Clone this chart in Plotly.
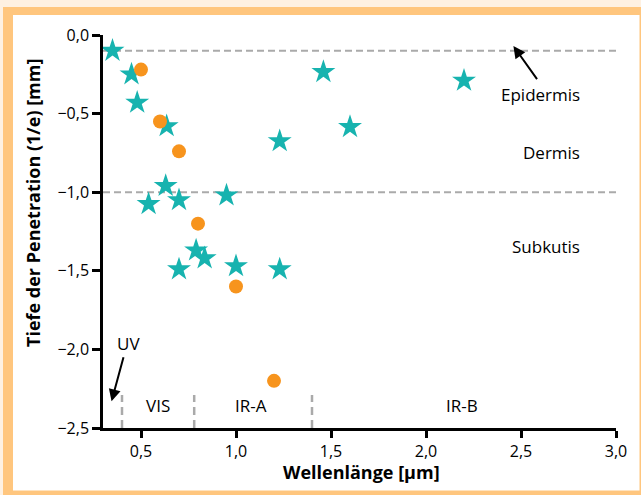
import plotly.graph_objects as go

# ---------------- data ----------------
star_x = [0.35, 0.45, 0.48, 0.635, 0.63, 0.54, 0.70, 0.95, 0.79, 0.835, 0.70, 1.0, 1.23, 1.23, 1.46, 1.60, 2.20]
star_y = [-0.10, -0.25, -0.43, -0.58, -0.96, -1.075, -1.05, -1.02, -1.37, -1.42, -1.49, -1.47, -1.49, -0.675, -0.235, -0.585, -0.29]

circ_x = [0.50, 0.60, 0.70, 0.80, 1.00, 1.20]
circ_y = [-0.22, -0.55, -0.74, -1.20, -1.60, -2.20]

layer_bounds = [-0.1, -1.0]            # Epidermis/Dermis boundaries
region_bounds = [0.40, 0.78, 1.40]     # UV | VIS | IR-A | IR-B
region_labels = ["VIS", "IR-A", "IR-B"]
region_label_x = [0.59, 1.08, 2.19]
layer_labels = ["Epidermis", "Dermis", "Subkutis"]
layer_label_y = [-0.38, -0.75, -1.345]

x_ticks = [0.5, 1.0, 1.5, 2.0, 2.5, 3.0]
y_ticks = [0.0, -0.5, -1.0, -1.5, -2.0, -2.5]

TEAL = "#17B3AF"
ORANGE = "#F7941D"
FONT = "Open Sans"

W, H = 641, 495
L, R, T, B = 103, 25, 35, 67
PW, PH = W - L - R, H - T - B


def px(xp):
    return (xp - L) / PW


def py(yp):
    return (H - B - yp) / PH


fig = go.Figure()

fig.add_trace(go.Scatter(
    x=star_x, y=star_y, mode="markers",
    marker=dict(symbol="star", size=18, color=TEAL, line=dict(width=0)),
    hoverinfo="skip", showlegend=False))
fig.add_trace(go.Scatter(
    x=circ_x, y=circ_y, mode="markers",
    marker=dict(symbol="circle", size=14, color=ORANGE, line=dict(width=0)),
    hoverinfo="skip", showlegend=False))

shapes = []
# orange frame
shapes.append(dict(type="rect", xref="paper", yref="paper", layer="below",
                   x0=px(0), x1=px(W + 10), y0=py(H + 10), y1=py(0),
                   fillcolor="#FEF1E2", line=dict(width=0)))
shapes.append(dict(type="rect", xref="paper", yref="paper", layer="below",
                   x0=px(3), x1=px(W + 10), y0=py(H + 10), y1=py(7),
                   fillcolor="#FFC67E", line=dict(width=0)))
shapes.append(dict(type="rect", xref="paper", yref="paper", layer="below",
                   x0=px(13), x1=px(639.5), y0=py(490.5), y1=py(15),
                   fillcolor="white", line=dict(width=0)))
# horizontal layer boundaries
for yb in layer_bounds:
    shapes.append(dict(type="line", xref="x", yref="y", layer="below",
                       x0=0.3, x1=3.0, y0=yb, y1=yb,
                       line=dict(color="#AAAAAA", width=2, dash="7px,4px")))
# vertical region boundaries
for xb in region_bounds:
    shapes.append(dict(type="line", xref="x", yref="y", layer="below",
                       x0=xb, x1=xb, y0=-2.5, y1=-2.29,
                       line=dict(color="#AAAAAA", width=2.5, dash="8px,5px")))

ann = []
for lab, lx in zip(region_labels, region_label_x):
    ann.append(dict(x=lx, y=-2.36, xref="x", yref="y", text=lab, showarrow=False,
                    xanchor="center", yanchor="middle",
                    font=dict(size=17, color="black")))
for lab, ly in zip(layer_labels, layer_label_y):
    ann.append(dict(x=px(582), y=ly, xref="paper", yref="y", text=lab, showarrow=False,
                    xanchor="right", yanchor="middle",
                    font=dict(size=17, color="black")))
# arrows
ann.append(dict(x=0.345, y=-2.33, xref="x", yref="y", ax=0.41, ay=-2.04, axref="x", ayref="y",
                text="", showarrow=True, arrowhead=2, arrowsize=1.2, arrowwidth=2, arrowcolor="black"))
ann.append(dict(x=0.435, y=-1.96, xref="x", yref="y", text="UV", showarrow=False,
                xanchor="center", yanchor="middle",
                font=dict(size=17, color="black")))
ann.append(dict(x=2.46, y=-0.07, xref="x", yref="y", ax=2.59, ay=-0.29, axref="x", ayref="y",
                text="", showarrow=True, arrowhead=2, arrowsize=1.2, arrowwidth=2, arrowcolor="black"))
# axis titles
ann.append(dict(x=px(33), y=py(203), xref="paper", yref="paper", text="<b>Tiefe der Penetration (1/e) [mm]</b>",
                textangle=-90, showarrow=False, xanchor="center", yanchor="middle",
                font=dict(size=18, color="black")))
ann.append(dict(x=px(361), y=py(472), xref="paper", yref="paper", text="<b>Wellenlänge [µm]</b>",
                showarrow=False, xanchor="center", yanchor="middle",
                font=dict(size=18, color="black")))

fig.update_layout(
    width=W, height=H,
    margin=dict(l=L, r=R, t=T, b=B),
    paper_bgcolor="white", plot_bgcolor="rgba(0,0,0,0)",
    separators=",.",
    font=dict(family=FONT, size=16, color="black"),
    shapes=shapes, annotations=ann,
    showlegend=False,
)
fig.update_xaxes(range=[0.3, 3.0], tickvals=x_ticks, tickformat=".1f",
                 showline=True, linecolor="black", linewidth=2.5,
                 ticks="outside", ticklen=7, tickwidth=2.5, tickcolor="black",
                 showgrid=False, zeroline=False, tickfont=dict(size=16))
fig.update_yaxes(range=[-2.5, 0.0], tickvals=y_ticks, tickformat=".1f",
                 showline=True, linecolor="black", linewidth=2.5,
                 ticks="outside", ticklen=8, tickwidth=2.5, tickcolor="black",
                 showgrid=False, zeroline=False, tickfont=dict(size=16))

fig.write_html("out.html", config={"displayModeBar": False},
               post_script="document.body.style.margin='0';document.body.style.overflow='hidden';")
